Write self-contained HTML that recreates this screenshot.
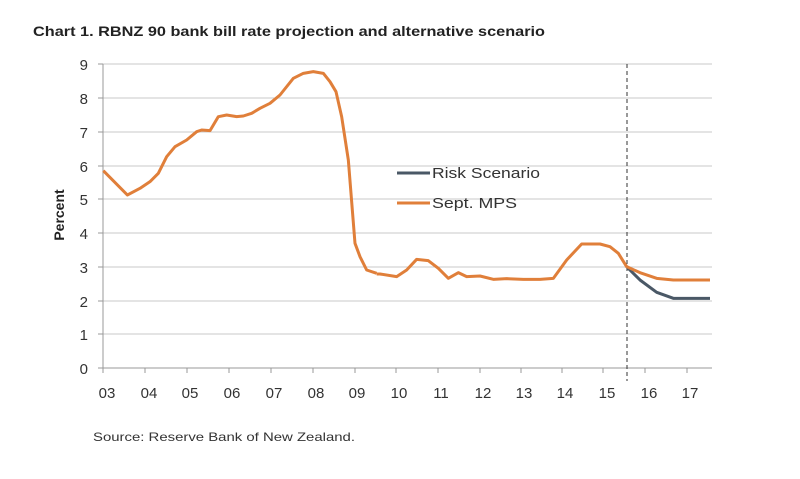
<!DOCTYPE html>
<html><head><meta charset="utf-8"><style>
body{margin:0;background:#fff;}
svg{display:block;font-family:"Liberation Sans",sans-serif;}
</style></head><body>
<svg width="800" height="479" viewBox="0 0 800 479">
<rect width="800" height="479" fill="#fff"/>
<text x="33" y="36" font-size="14" font-weight="bold" fill="#222" textLength="512" lengthAdjust="spacingAndGlyphs">Chart 1.  RBNZ 90 bank bill rate projection and alternative scenario</text>
<g stroke="#c8c8c8" stroke-width="1">
<line x1="103" y1="64" x2="712" y2="64"/><line x1="103" y1="98" x2="712" y2="98"/>
<line x1="103" y1="132" x2="712" y2="132"/><line x1="103" y1="166" x2="712" y2="166"/>
<line x1="103" y1="199" x2="712" y2="199"/><line x1="103" y1="233" x2="712" y2="233"/>
<line x1="103" y1="267" x2="712" y2="267"/><line x1="103" y1="301" x2="712" y2="301"/>
<line x1="103" y1="334" x2="712" y2="334"/>
</g>
<g stroke="#999" stroke-width="1">
<line x1="103" y1="64" x2="103" y2="368"/><line x1="98" y1="368" x2="712" y2="368"/>
<line x1="98" y1="64" x2="103" y2="64"/><line x1="98" y1="98" x2="103" y2="98"/><line x1="98" y1="132" x2="103" y2="132"/><line x1="98" y1="166" x2="103" y2="166"/><line x1="98" y1="199" x2="103" y2="199"/><line x1="98" y1="233" x2="103" y2="233"/><line x1="98" y1="267" x2="103" y2="267"/><line x1="98" y1="301" x2="103" y2="301"/><line x1="98" y1="334" x2="103" y2="334"/>
<line x1="103" y1="368" x2="103" y2="373"/><line x1="145" y1="368" x2="145" y2="373"/><line x1="187" y1="368" x2="187" y2="373"/><line x1="229" y1="368" x2="229" y2="373"/><line x1="271" y1="368" x2="271" y2="373"/><line x1="313" y1="368" x2="313" y2="373"/><line x1="355" y1="368" x2="355" y2="373"/><line x1="396" y1="368" x2="396" y2="373"/><line x1="438" y1="368" x2="438" y2="373"/><line x1="480" y1="368" x2="480" y2="373"/><line x1="521" y1="368" x2="521" y2="373"/><line x1="562" y1="368" x2="562" y2="373"/><line x1="603" y1="368" x2="603" y2="373"/><line x1="645" y1="368" x2="645" y2="373"/><line x1="687" y1="368" x2="687" y2="373"/>
</g>
<g font-size="15" fill="#333" text-anchor="end">
<text x="88" y="70">9</text><text x="88" y="104">8</text><text x="88" y="138">7</text><text x="88" y="172">6</text><text x="88" y="205">5</text><text x="88" y="239">4</text><text x="88" y="273">3</text><text x="88" y="307">2</text><text x="88" y="340">1</text><text x="88" y="374">0</text>
</g>
<g font-size="15" fill="#333" text-anchor="middle">
<text x="107" y="398">03</text><text x="149" y="398">04</text><text x="190" y="398">05</text><text x="232" y="398">06</text><text x="274" y="398">07</text><text x="316" y="398">08</text><text x="357" y="398">09</text><text x="399" y="398">10</text><text x="441" y="398">11</text><text x="483" y="398">12</text><text x="524" y="398">13</text><text x="565" y="398">14</text><text x="607" y="398">15</text><text x="649" y="398">16</text><text x="690" y="398">17</text>
</g>
<text transform="translate(64,215) rotate(-90)" font-size="14" font-weight="bold" text-anchor="middle" fill="#222">Percent</text>
<line x1="627" y1="64" x2="627" y2="381" stroke="#333" stroke-width="1" stroke-dasharray="4,3"/>
<g fill="none" stroke-linejoin="round">
<polyline transform="translate(40,50) scale(0.33333)" stroke="#e07f3a" stroke-width="9" points="190,362 262,435 300,415 330,395 355,370 380,320 405,290 440,270 470,245 485,240 510,242 535,200 560,195 590,200 610,198 635,190 660,175 690,160 720,135 760,85 790,70 820,65 850,70 870,95 888,125 905,200 925,330 945,580 960,620 980,660 1010,670"/>
<polyline transform="translate(380,50) scale(0.33333)" stroke="#4a5866" stroke-width="9" points="740,650 780,690 830,727 880,745 990,745"/>
<polyline transform="translate(380,50) scale(0.33333)" stroke="#e07f3a" stroke-width="9" points="-10,672 0,672 50,680 80,660 110,628 145,632 175,655 205,685 235,668 260,680 300,678 340,688 380,686 430,688 480,688 520,685 560,630 605,582 660,582 690,590 715,610 740,650 780,668 830,685 880,690 990,690"/>
</g>
<line x1="397" y1="173" x2="430" y2="173" stroke="#4a5866" stroke-width="3"/>
<line x1="397" y1="203" x2="430" y2="203" stroke="#e07f3a" stroke-width="3"/>
<text x="432" y="178" font-size="15" fill="#333" textLength="108" lengthAdjust="spacingAndGlyphs">Risk Scenario</text>
<text x="432" y="208" font-size="15" fill="#333" textLength="85" lengthAdjust="spacingAndGlyphs">Sept. MPS</text>
<text x="93" y="441" font-size="12" fill="#333" textLength="262" lengthAdjust="spacingAndGlyphs">Source: Reserve Bank of New Zealand.</text>
</svg>
</body></html>
